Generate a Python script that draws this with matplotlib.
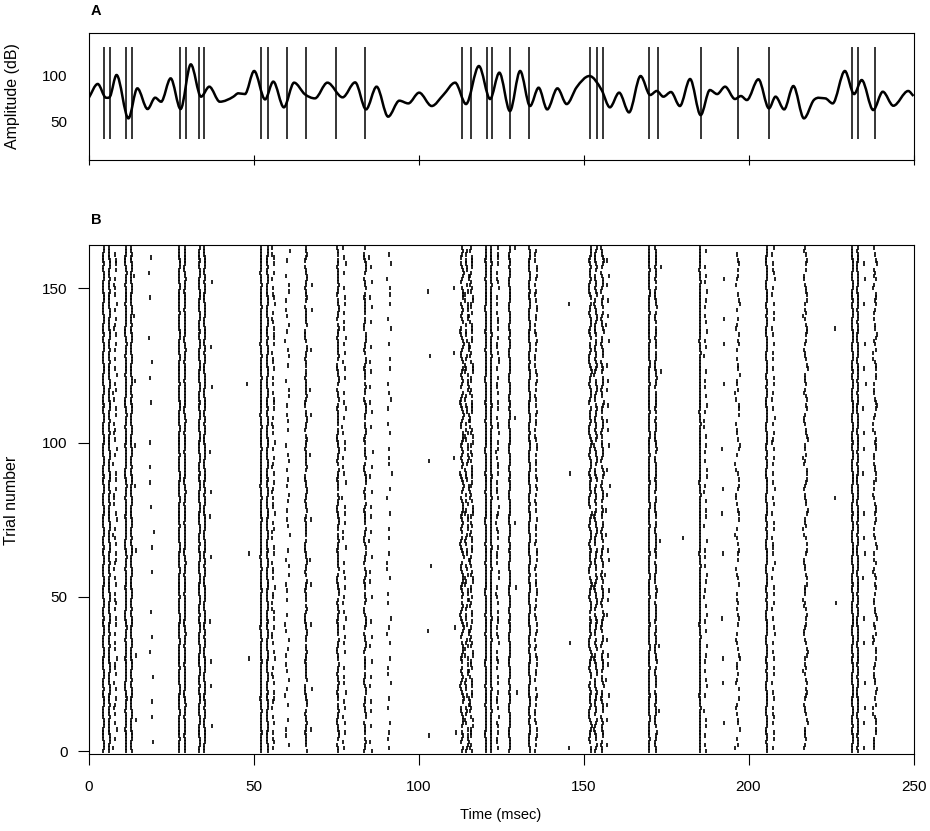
import numpy as np
import matplotlib
matplotlib.use("Agg")
import matplotlib.pyplot as plt
from matplotlib.path import Path
from matplotlib.patches import PathPatch

plt.rcParams['font.family'] = ['Liberation Sans', 'DejaVu Sans']
plt.rcParams['font.size'] = 10.5

# Panel A: stimulus amplitude envelope (time ms, dB)
amp_time = [0, 2.8, 5.3, 6.5, 8.5, 12.1, 14.8, 17.9, 20.2, 22.0, 24.9, 27.9, 31.0,
            34.1, 36.6, 39.8, 43.9, 45.4, 47.4, 50.2, 53.5, 56.0, 59.2, 62.3, 65.6,
            68.6, 72.4, 77.0, 80.8, 84.1, 87.3, 90.8, 94.2, 96.9, 100.2, 104.0,
            107.5, 111.1, 114.4, 118.3, 121.7, 124.5, 127.7, 130.8, 133.8, 136.4,
            139.0, 142.1, 144.9, 147.9, 151.8, 155.5, 158.0, 160.8, 163.8, 167.3,
            170.2, 172.2, 174.2, 176.5, 179.2, 182.3, 185.5, 188.3, 190.5, 192.9,
            195.9, 197.7, 199.5, 203.0, 206.2, 208.2, 210.8, 213.6, 216.8, 219.8,
            223.2, 225.5, 229.2, 232.0, 234.3, 237.8, 240.7, 243.9, 248.4, 250]
amp_db = [75, 90.4, 75.7, 76.8, 100, 53.6, 85.7, 63.6, 75.7, 71.4, 96.4, 63.6, 111.4,
          76.8, 87.5, 71.4, 76.8, 80.4, 79.6, 104.3, 73.9, 92.9, 65.4, 91.8, 79.3,
          75.0, 91.8, 76.1, 92.1, 63.2, 87.5, 55.4, 72.5, 69.6, 81.1, 66.8,
          78.6, 91.8, 68.9, 109.6, 74.3, 102.5, 61.4, 104.3, 66.8, 86.4,
          63.2, 85.7, 68.9, 86.8, 98.9, 83.9, 65.4, 81.1, 60.0, 98.9,
          78.6, 82.9, 76.8, 81.8, 66.8, 95.7, 57.1, 83.9, 79.6, 87.5,
          74.3, 77.5, 73.2, 95.4, 64.3, 76.8, 63.2, 88.2, 53.6, 73.2,
          75.0, 69.6, 104.3, 79.6, 94.6, 62.5, 82.1, 67.1, 82.9, 77.5]

# spike times marked in panel A (ms)
marker_times = [4.8, 6.5, 11.4, 13.2, 27.7, 29.4, 33.5, 35.1, 52.3, 54.3, 60.3, 66.0,
                75.1, 83.9, 113.3, 115.9, 120.7, 122.4, 127.7, 133.5, 152.0, 154.0,
                156.0, 169.9, 172.7, 185.6, 196.8, 206.1, 231.4, 233.3, 238.4]

# Panel B: raster columns (time ms, fraction of trials with a spike, jitter ms)
event_time = [4.5, 6.3, 8.1, 11.3, 13.0, 14.1, 19.0, 27.5, 29.2, 33.6, 35.2, 37.2,
              48.3, 52.3, 54.2, 56.0, 60.3, 65.9, 67.6, 75.6, 77.5, 83.8, 85.6, 91.1,
              103.0, 111.0, 113.2, 114.7, 116.0, 120.4, 122.0, 124.0, 127.6, 129.4,
              133.6, 135.6, 145.6, 152.0, 153.7, 155.7, 157.3, 169.9, 171.9, 173.2,
              180.2, 185.3, 187.0, 192.4, 196.7, 205.5, 207.5, 217.3, 226.2, 231.5,
              233.1, 235.1, 238.3]
event_prob = [1.0, 1.0, 0.45, 1.0, 1.0, 0.05, 0.12, 1.0, 1.0, 1.0, 1.0, 0.07,
              0.02, 1.0, 1.0, 0.5, 0.35, 0.9, 0.08, 0.9, 0.35, 0.85, 0.22, 0.28,
              0.04, 0.03, 0.9, 0.7, 0.75, 1.0, 1.0, 0.5, 1.0, 0.03,
              1.0, 0.6, 0.02, 0.95, 0.9, 0.85, 0.2, 1.0, 0.9, 0.03,
              0.01, 1.0, 0.35, 0.08, 0.55, 1.0, 0.4, 0.75, 0.02, 1.0,
              1.0, 0.12, 0.7]
event_jitter = [0.25, 0.25, 0.4, 0.25, 0.3, 0.3, 0.5, 0.25, 0.25, 0.2, 0.25, 0.3,
                0.3, 0.2, 0.25, 0.35, 0.5, 0.4, 0.4, 0.35, 0.45, 0.4, 0.4, 0.5,
                0.5, 0.3, 0.6, 0.5, 0.45, 0.2, 0.2, 0.3, 0.2, 0.3,
                0.2, 0.25, 0.3, 0.5, 0.5, 0.45, 0.45, 0.2, 0.3, 0.3,
                0.3, 0.2, 0.35, 0.3, 0.45, 0.25, 0.35, 0.45, 0.3, 0.25,
                0.25, 0.3, 0.4]
# hand-typed trial-to-trial wobble (fraction of jitter)
wobble = [0.0, 0.4, 0.7, 0.3, -0.2, -0.6, -0.3, 0.1, 0.5, 0.9, 0.4, -0.1,
          -0.5, -0.9, -0.4, 0.2, 0.6, 0.2, -0.3, -0.1, 0.3, -0.2, -0.7]
n_trials = 164

fig = plt.figure(figsize=(9.3, 8.31), dpi=100)
W, H = 930, 831

# ---- Panel A
ax_a = fig.add_axes([88.5 / W, 1 - 160 / H, 825 / W, 127.3 / H])
t = np.array(amp_time)
y = np.array(amp_db)
slope = np.gradient(y, t)
for i in range(1, len(y) - 1):
    if (y[i] - y[i - 1]) * (y[i + 1] - y[i]) <= 0:
        slope[i] = 0
verts = [(t[0], y[0])]
codes = [Path.MOVETO]
for i in range(len(t) - 1):
    d = (t[i + 1] - t[i]) / 3
    verts += [(t[i] + d, y[i] + slope[i] * d),
              (t[i + 1] - d, y[i + 1] - slope[i + 1] * d),
              (t[i + 1], y[i + 1])]
    codes += [Path.CURVE4] * 3
ax_a.add_patch(PathPatch(Path(verts, codes), fill=False, lw=1.8, color="black"))
ax_a.vlines(marker_times, 32, 130, color="black", lw=1.1)
ax_a.set_xlim(0, 250)
ax_a.set_ylim(9, 145.3)
ax_a.set_xticks([0, 50, 100, 150, 200, 250])
ax_a.set_yticks([50, 100])
ax_a.tick_params(axis="x", direction="inout", length=7, labelbottom=False)
ax_a.tick_params(axis="y", length=0, pad=15.5, labelsize=11)

# ---- Panel B
ax_b = fig.add_axes([88.5 / W, 1 - 754 / H, 825 / W, 509 / H])
xs, lo, hi = [], [], []
phi = 0.6180339887
for k, (et, p, j) in enumerate(zip(event_time, event_prob, event_jitter)):
    for i in range(n_trials):
        u = (i * phi + k * 0.3719) % 1.0
        if u >= p:
            continue
        if p >= 0.85:
            # reliable columns drift smoothly from trial to trial
            w = wobble[(i + 5 * k) % len(wobble)]
        else:
            w = 1.6 * wobble[(i * 7 + 3 * k) % len(wobble)]
        xs.append(et + j * w)
        lo.append(i - 0.7)
        hi.append(i + 0.7)
ax_b.vlines(xs, lo, hi, color="black", lw=1.2)
ax_b.set_xlim(0, 250)
ax_b.set_ylim(-0.97, 164.04)
ax_b.set_xticks([0, 50, 100, 150, 200, 250])
ax_b.set_yticks([0, 50, 100, 150])
ax_b.tick_params(axis="x", length=8, pad=11, labelsize=11)
ax_b.tick_params(axis="y", length=8, pad=7, labelsize=11)

fig.text(12 / W, 1 - 96 / H, "Amplitude (dB)", rotation=90, ha="center", va="center",
         fontsize=11.5)
fig.text(12 / W, 1 - 500 / H, "Trial number", rotation=90, ha="center", va="center",
         fontsize=11.5)
fig.text(501 / W, 1 - 815 / H, "Time (msec)", ha="center", va="center")
fig.text(90.5 / W, 1 - 11 / H, "A", fontweight="bold", ha="left", va="center")
fig.text(90.5 / W, 1 - 220.5 / H, "B", fontweight="bold", ha="left", va="center")

plt.savefig("out.png", dpi=100)
